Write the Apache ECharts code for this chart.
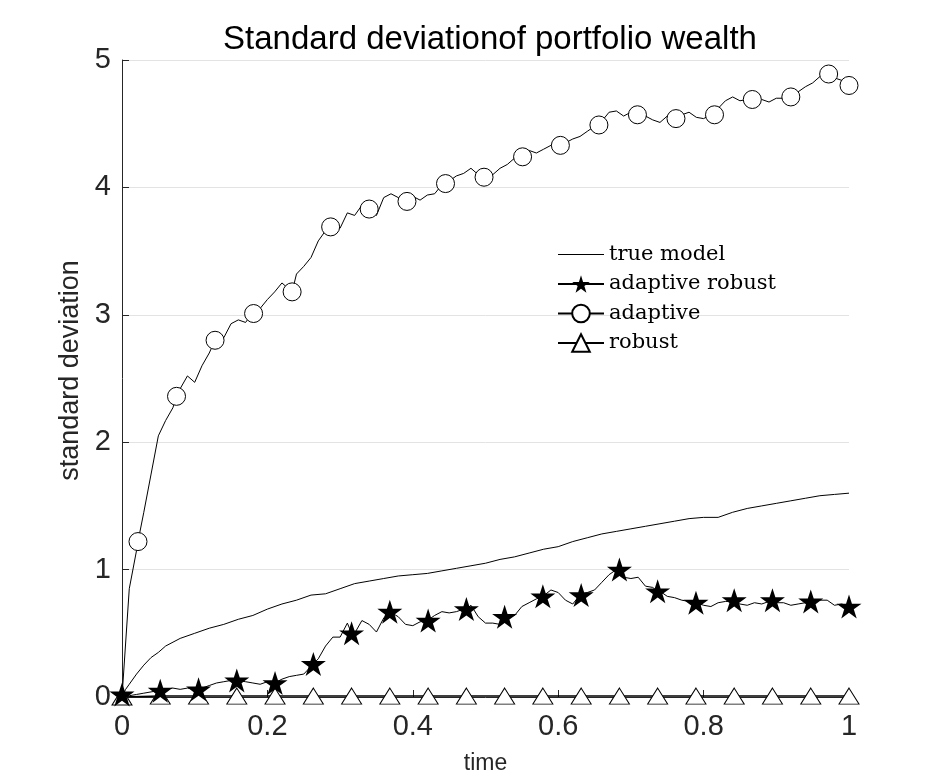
<!DOCTYPE html>
<html>
<head>
<meta charset="utf-8">
<title>Standard deviation of portfolio wealth</title>
<script src="https://cdn.jsdelivr.net/npm/echarts@6/dist/echarts.min.js"></script>
<style>
    html, body { margin: 0; padding: 0; background: #fff; }
    #chart { width: 938px; height: 781px; }
</style>
</head>
<body>
<div id="chart"></div>
<script>
    // sample times of the noisy curves (step 0.01)
    const gridTime = [0, 0.01, 0.02, 0.03, 0.04, 0.05, 0.06, 0.07, 0.08, 0.09,
        0.1, 0.11, 0.12, 0.13, 0.14, 0.15, 0.16, 0.17, 0.18, 0.19,
        0.2, 0.21, 0.22, 0.23, 0.24, 0.25, 0.26, 0.27, 0.28, 0.29,
        0.3, 0.31, 0.32, 0.33, 0.34, 0.35, 0.36, 0.37, 0.38, 0.39,
        0.4, 0.41, 0.42, 0.43, 0.44, 0.45, 0.46, 0.47, 0.48, 0.49,
        0.5, 0.51, 0.52, 0.53, 0.54, 0.55, 0.56, 0.57, 0.58, 0.59,
        0.6, 0.61, 0.62, 0.63, 0.64, 0.65, 0.66, 0.67, 0.68, 0.69,
        0.7, 0.71, 0.72, 0.73, 0.74, 0.75, 0.76, 0.77, 0.78, 0.79,
        0.8, 0.81, 0.82, 0.83, 0.84, 0.85, 0.86, 0.87, 0.88, 0.89,
        0.9, 0.91, 0.92, 0.93, 0.94, 0.95, 0.96, 0.97, 0.98, 0.99, 1];

    const adaptive = [0, 0.85, 1.15, 1.45, 1.75, 2.05, 2.17, 2.27, 2.42, 2.52,
        2.47, 2.60, 2.70, 2.80, 2.82, 2.93, 2.96, 2.94, 3.02, 3.05,
        3.12, 3.18, 3.25, 3.20, 3.32, 3.38, 3.45, 3.58, 3.66, 3.70,
        3.68, 3.80, 3.78, 3.86, 3.83, 3.78, 3.92, 3.95, 3.92, 3.88,
        3.93, 3.90, 3.94, 3.95, 4.02, 4.05, 4.09, 4.11, 4.15, 4.10,
        4.07, 4.10, 4.15, 4.18, 4.23, 4.24, 4.29, 4.27, 4.30, 4.33,
        4.32, 4.35, 4.38, 4.40, 4.44, 4.48, 4.52, 4.59, 4.60, 4.56,
        4.59, 4.53, 4.56, 4.53, 4.51, 4.56, 4.54, 4.57, 4.59, 4.55,
        4.54, 4.57, 4.62, 4.68, 4.71, 4.68, 4.69, 4.68, 4.69, 4.67,
        4.70, 4.70, 4.73, 4.75, 4.79, 4.82, 4.87, 4.88, 4.86, 4.84, 4.79];

    const adaptiveRobust = [0, 0.01, 0.02, 0.03, 0.04, 0.05, 0.06, 0.07, 0.06, 0.07,
        0.06, 0.07, 0.09, 0.11, 0.12, 0.13, 0.13, 0.12, 0.11, 0.10,
        0.12, 0.11, 0.14, 0.16, 0.17, 0.18, 0.24, 0.30, 0.40, 0.47,
        0.47, 0.58, 0.50, 0.60, 0.57, 0.51, 0.62, 0.66, 0.63, 0.57,
        0.56, 0.59, 0.60, 0.64, 0.67, 0.66, 0.67, 0.69, 0.72, 0.63,
        0.58, 0.58, 0.57, 0.63, 0.64, 0.71, 0.74, 0.77, 0.79, 0.84,
        0.82, 0.76, 0.73, 0.80, 0.82, 0.84, 0.90, 0.96, 1.00, 0.94,
        0.93, 0.94, 0.87, 0.86, 0.83, 0.79, 0.78, 0.76, 0.75, 0.73,
        0.72, 0.71, 0.74, 0.75, 0.75, 0.73, 0.72, 0.74, 0.73, 0.75,
        0.74, 0.74, 0.72, 0.73, 0.74, 0.75, 0.76, 0.76, 0.72, 0.73, 0.71];

    const trueTime = [0, 0.005, 0.01, 0.02, 0.03, 0.04, 0.05, 0.06,
        0.08, 0.1, 0.12, 0.14, 0.16, 0.18, 0.2, 0.22, 0.24, 0.26, 0.28, 0.3,
        0.32, 0.34, 0.36, 0.38, 0.4, 0.42, 0.44, 0.46, 0.48, 0.5,
        0.52, 0.54, 0.56, 0.58, 0.6, 0.62, 0.64, 0.66, 0.68, 0.7,
        0.72, 0.74, 0.76, 0.78, 0.8, 0.82, 0.84, 0.86, 0.88, 0.9,
        0.92, 0.94, 0.96, 0.98, 1];
    const trueModel = [0, 0.06, 0.10, 0.18, 0.25, 0.31, 0.35, 0.40,
        0.46, 0.50, 0.54, 0.57, 0.61, 0.64, 0.69, 0.73, 0.76, 0.80, 0.81, 0.85,
        0.89, 0.91, 0.93, 0.95, 0.96, 0.97, 0.99, 1.01, 1.03, 1.05,
        1.08, 1.10, 1.13, 1.16, 1.18, 1.22, 1.25, 1.28, 1.30, 1.32,
        1.34, 1.36, 1.38, 1.40, 1.41, 1.41, 1.45, 1.48, 1.50, 1.52,
        1.54, 1.56, 1.58, 1.59, 1.60];

    // marker positions
    const starTime = [0, 0.0526, 0.1053, 0.1579, 0.2105, 0.2632, 0.3158, 0.3684, 0.4211, 0.4737,
        0.5263, 0.5789, 0.6316, 0.6842, 0.7368, 0.7895, 0.8421, 0.8947, 0.9474, 1];
    const starValues = [0.02, 0.05, 0.06, 0.13, 0.11, 0.26, 0.50, 0.67, 0.60, 0.69,
        0.63, 0.79, 0.80, 1.00, 0.83, 0.74, 0.76, 0.76, 0.75, 0.71];
    const circleTime = [0.022, 0.075, 0.128, 0.181, 0.234, 0.287, 0.340, 0.392, 0.445, 0.498,
        0.551, 0.603, 0.656, 0.709, 0.762, 0.815, 0.867, 0.920, 0.972, 1];
    const circleValues = [1.22, 2.36, 2.80, 3.01, 3.18, 3.69, 3.83, 3.89, 4.03, 4.08,
        4.24, 4.33, 4.49, 4.57, 4.54, 4.57, 4.69, 4.71, 4.89, 4.80];
    const robustValues = [0, 0.007, 0.007, 0.007, 0.007, 0.007, 0.007, 0.007, 0.007, 0.007,
        0.007, 0.007, 0.007, 0.007, 0.007, 0.007, 0.007, 0.007, 0.007, 0.007];

    const starPath = 'path://M50 0L61.2 34.5H97.6L68.2 55.9L79.4 90.5L50 69.1L20.6 90.5L31.8 55.9L2.4 34.5H38.8Z';

    // line points without symbol + marker points, sorted by time
    function buildLine(times, values, markTimes, markValues) {
        let pts = [];
        times.forEach((t, i) => {
            if (markTimes.indexOf(t) < 0) pts.push({value: [t, values[i]], symbol: 'none'});
        });
        markTimes.forEach((t, i) => pts.push({value: [t, markValues[i]]}));
        pts.sort((a, b) => a.value[0] - b.value[0]);
        return pts;
    }

    const axisColor = '#262626';
    const chart = echarts.init(document.getElementById('chart'));
    chart.setOption({
        animation: false,
        backgroundColor: '#fff',
        title: {
            text: 'Standard deviationof portfolio wealth',
            left: 485, top: 18, textAlign: 'center',
            textStyle: {fontFamily: 'Liberation Sans', fontSize: 33, fontWeight: 'normal', color: '#000'}
        },
        grid: {left: 122, right: 89, top: 60, bottom: 84},
        legend: {
            orient: 'vertical',
            left: 552, top: 239,
            itemWidth: 46, itemHeight: 22, itemGap: 8.5,
            textStyle: {fontFamily: 'DejaVu Serif', fontSize: 21, color: '#000'},
            data: [
                {name: 'true model', icon: 'path://M0,9H46V10H0Z'},
                'adaptive robust', 'adaptive', 'robust'
            ]
        },
        xAxis: {
            type: 'value', min: 0, max: 1, interval: 0.2,
            name: 'time', nameLocation: 'middle', nameGap: 55,
            nameTextStyle: {fontFamily: 'Liberation Sans', fontSize: 23, color: axisColor},
            axisLine: {lineStyle: {color: axisColor, width: 1}},
            axisTick: {inside: true, length: 7, lineStyle: {color: axisColor}},
            axisLabel: {fontFamily: 'Liberation Sans', fontSize: 29, color: axisColor, margin: 15},
            splitLine: {show: false}
        },
        yAxis: {
            type: 'value', min: 0, max: 5, interval: 1,
            name: 'standard deviation', nameLocation: 'middle', nameGap: 38,
            nameTextStyle: {fontFamily: 'Liberation Sans', fontSize: 27, color: axisColor, padding: [0, 0, 0, 16]},
            axisLine: {show: true, lineStyle: {color: axisColor, width: 1}},
            axisTick: {show: true, inside: true, length: 7, lineStyle: {color: axisColor}},
            axisLabel: {fontFamily: 'Liberation Sans', fontSize: 29, color: axisColor, margin: 11},
            splitLine: {show: true, lineStyle: {color: '#e3e3e3', width: 1}}
        },
        series: [
            {
                name: 'true model', type: 'line',
                symbol: 'none',
                lineStyle: {color: '#000', width: 1},
                itemStyle: {color: '#000'},
                data: trueTime.map((t, i) => [t, trueModel[i]]),
                z: 3
            },
            {
                name: 'adaptive robust', type: 'line',
                symbol: starPath, symbolSize: [25, 24],
                showSymbol: true, showAllSymbol: true,
                lineStyle: {color: '#000', width: 1},
                itemStyle: {color: '#000'},
                data: buildLine(gridTime, adaptiveRobust, starTime, starValues),
                z: 4
            },
            {
                name: 'adaptive', type: 'line',
                symbol: 'circle', symbolSize: 18,
                showSymbol: true, showAllSymbol: true,
                lineStyle: {color: '#000', width: 1},
                itemStyle: {color: '#fff', borderColor: '#000', borderWidth: 1},
                data: buildLine(gridTime, adaptive, circleTime, circleValues),
                z: 4
            },
            {
                name: 'robust', type: 'line',
                symbol: 'triangle', symbolSize: [20, 16],
                showSymbol: true, showAllSymbol: true,
                lineStyle: {color: '#000', width: 1.5},
                itemStyle: {color: '#fff', borderColor: '#000', borderWidth: 1},
                data: starTime.map((t, i) => [t, robustValues[i]]),
                z: 2
            }
        ]
    });
</script>
</body>
</html>
